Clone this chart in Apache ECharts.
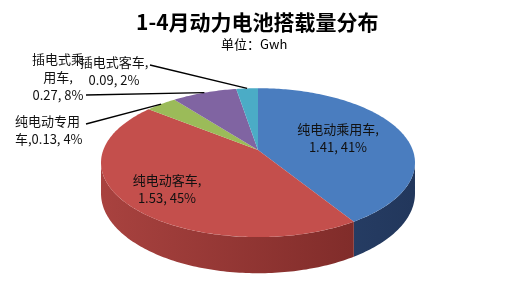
<!DOCTYPE html>
<html><head><meta charset="utf-8">
<script src="https://cdn.jsdelivr.net/npm/echarts@6/dist/echarts.min.js"></script>
<style>html,body{margin:0;padding:0;background:#fff}#c{width:528px;height:297px}</style>
</head><body><div id="c"></div>
<script>
// ---- data ----
const categories = ['纯电动乘用车', '纯电动客车', '纯电动专用车', '插电式乘用车', '插电式客车'];
const values = [1.41, 1.53, 0.13, 0.27, 0.09];
const percentLabels = ['41%', '45%', '4%', '8%', '2%'];
const titleText = '1-4月动力电池搭载量分布';
const subtitleText = '单位：Gwh';

// ---- layout / style ----
const topColors = ['#4A7DBF', '#C44F4C', '#9BBB59', '#8064A2', '#4BACC6'];
const sideLight = ['#34517F', '#A8423F', '#7A9446', '#634E80', '#3A889C'];
const sideDark = ['#22375C', '#772725', '#5A6E33', '#4A3A60', '#2A6575'];
// projected 3D disc: centre, half-width, half-height, perspective strength, wall height
const CX = 258, CY = 150, A = 154.7, B = 72.3, K = 0.17, H = 30;
const labelLayout = [
  {x: 338, y: 138, align: 'center', brk: null, lead: null},
  {x: 167, y: 189, align: 'center', brk: null, lead: null},
  {x: 15, y: 130, align: 'left', brk: 5, lead: [86, 124]},
  {x: 58, y: 77, align: 'center', brk: 4, lead: [86, 95]},
  {x: 114, y: 71, align: 'center', brk: null, lead: [150, 65]}
];

const total = values.reduce((a, b) => a + b, 0);
const starts = [];
{ let acc = 0; values.forEach(v => { starts.push(acc / total * Math.PI * 2); acc += v; }); }

function pt(theta, r, down) {
  const X = r * Math.sin(theta), Z = r * Math.cos(theta);
  const p = 1 + K * Z;
  return [CX + A * X / p, CY + (-B * Z + (down || 0)) / p];
}
function arc(a, b, r, down) {
  const pts = [];
  const n = Math.max(2, Math.ceil((b - a) / (Math.PI / 180)));
  for (let i = 0; i <= n; i++) pts.push(pt(a + (b - a) * i / n, r, down));
  return pts;
}
function slice(i, api) {
  const a = starts[i];
  return [a, a + api.value(0) / total * Math.PI * 2];
}
const SIL = Math.acos(-K);

function renderSide(params, api) {
  const i = params.dataIndex;
  const [a, b] = slice(i, api);
  const lo = Math.max(a, SIL), hi = Math.min(b, Math.PI * 2 - SIL);
  if (hi <= lo) return {type: 'group', children: []};
  const top = arc(lo, hi, 1, 0);
  const bot = arc(lo, hi, 1, H).reverse();
  return {
    type: 'polygon',
    shape: {points: top.concat(bot)},
    style: {
      fill: new echarts.graphic.LinearGradient(CX - A, 0, CX + A, 0, [
        {offset: 0, color: sideLight[i]}, {offset: 1, color: sideDark[i]}
      ], true)
    }
  };
}
function renderTop(params, api) {
  const i = params.dataIndex;
  const [a, b] = slice(i, api);
  return {
    type: 'polygon',
    shape: {points: [pt(0, 0, 0)].concat(arc(a, b, 1, 0))},
    style: {fill: topColors[i]}
  };
}
function renderLabel(params, api) {
  const i = params.dataIndex;
  const [a, b] = slice(i, api);
  const L = labelLayout[i];
  const cat = categories[i];
  const v = api.value(0).toFixed(2);
  let text;
  if (L.brk != null) {
    const rest = cat.slice(L.brk);
    if (i === 3) text = cat.slice(0, L.brk) + '\n' + rest + ',\n' + v + ', ' + percentLabels[i];
    else text = cat.slice(0, L.brk) + '\n' + rest + ',' + v + ', ' + percentLabels[i];
  } else {
    text = cat + ',\n' + v + ', ' + percentLabels[i];
  }
  const children = [];
  if (L.lead) {
    const end = pt((a + b) / 2, 1, 0);
    children.push({
      type: 'line',
      shape: {x1: L.lead[0], y1: L.lead[1], x2: end[0], y2: end[1]},
      style: {stroke: '#000', lineWidth: 1.3}
    });
  }
  children.push({
    type: 'text',
    style: {
      text: text, x: L.x, y: L.y, fill: '#111',
      font: '13px "Noto Sans CJK SC", sans-serif',
      align: L.align, verticalAlign: 'middle', lineHeight: 18
    }
  });
  return {type: 'group', children: children};
}

const chart = echarts.init(document.getElementById('c'), null, {renderer: 'canvas'});
chart.setOption({
  animation: false,
  backgroundColor: '#fff',
  graphic: [
    {type: 'text', top: 12, left: 136, style: {text: titleText, fill: '#000',
      font: 'bold 21px "Noto Sans CJK SC", sans-serif'}},
    {type: 'text', top: 38, left: 221, style: {text: subtitleText, fill: '#000',
      font: '13px "Noto Sans CJK SC", sans-serif'}}
  ],
  series: [
    {type: 'custom', coordinateSystem: 'none', z: 1, data: values, renderItem: renderSide, silent: true},
    {type: 'custom', coordinateSystem: 'none', z: 2, data: values, renderItem: renderTop, silent: true},
    {type: 'custom', coordinateSystem: 'none', z: 3, data: values, renderItem: renderLabel, silent: true}
  ]
});
</script></body></html>
